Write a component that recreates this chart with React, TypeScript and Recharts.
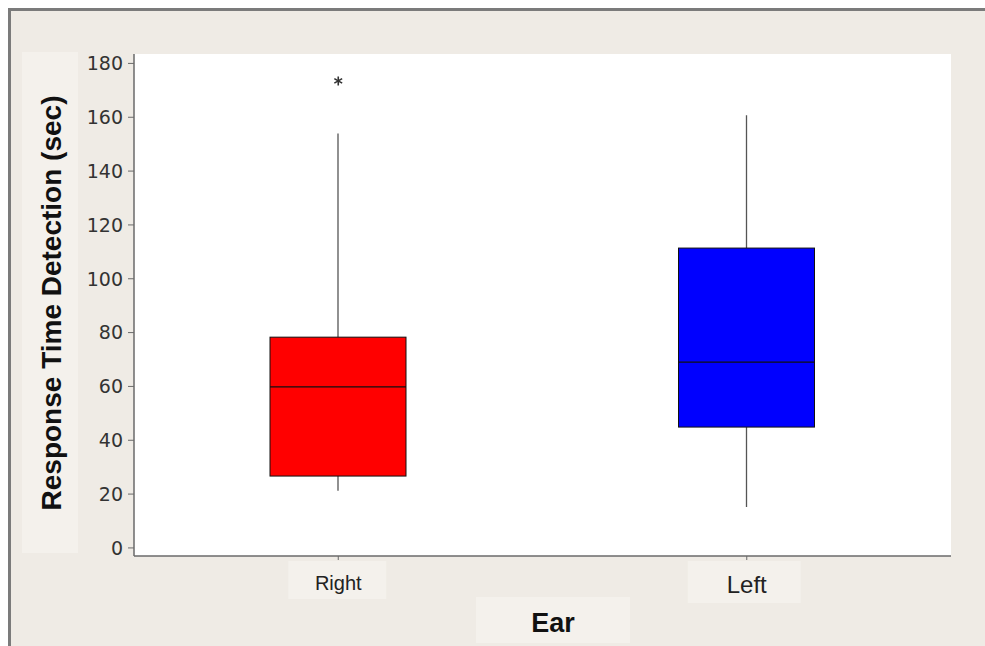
import { ComposedChart, Bar, Scatter, XAxis, YAxis, CartesianGrid } from 'recharts';

const ARIAL = '"Liberation Sans", Arial, sans-serif';
const DEJAVU = '"DejaVu Sans", Verdana, sans-serif';

const ears = ['Right', 'Left'];
const whiskerLow = [21.2, 15.2];
const quartile1 = [26.7, 44.9];
const medians = [59.8, 69.0];
const quartile3 = [78.3, 111.4];
const whiskerHigh = [154.0, 160.7];
const outliers: (number | null)[] = [173.5, null];
const yTicks = [0, 20, 40, 60, 80, 100, 120, 140, 160, 180];

const BOX_COLORS: Record<string, string> = { Right: '#ff0000', Left: '#0000ff' };
const TICK_FONT: Record<string, number> = { Right: 20, Left: 24 };
// [left offset, right offset, height, baseline offset]
const TICK_BOX: Record<string, [number, number, number, number]> = {
  Right: [-50, 48, 38, 28],
  Left: [-59, 54, 42, 31],
};

const BG = '#efebe5';
const BOX_BG = '#f4f1ec';
const AXIS = '#6a6a6a';

const data = ears.map((ear, i) => ({
  ear,
  low: whiskerLow[i],
  q1: quartile1[i],
  median: medians[i],
  q3: quartile3[i],
  high: whiskerHigh[i],
  outlier: outliers[i],
}));

type Row = (typeof data)[number];

const BoxShape = (props: any) => {
  const { x, y, width, height, payload } = props;
  const d = payload as Row;
  const k = height / (d.high - d.low);
  const py = (v: number) => y + (d.high - v) * k;
  const cx = x + width / 2;
  return (
    <g>
      <line x1={cx} x2={cx} y1={py(d.high)} y2={py(d.q3)} stroke="#555" strokeWidth={1.3} />
      <line x1={cx} x2={cx} y1={py(d.q1)} y2={py(d.low)} stroke="#555" strokeWidth={1.3} />
      <rect
        x={x}
        y={py(d.q3)}
        width={width}
        height={py(d.q1) - py(d.q3)}
        fill={BOX_COLORS[d.ear]}
        stroke="#111"
        strokeWidth={1}
      />
      <line x1={x} x2={x + width} y1={py(d.median)} y2={py(d.median)} stroke="#111" strokeWidth={1.2} />
    </g>
  );
};

const Asterisk = (props: any) => {
  const { cx, cy } = props;
  if (cx == null || cy == null || Number.isNaN(cy)) return null;
  const r = 4.5;
  return (
    <g stroke="#333" strokeWidth={1.6}>
      <line x1={cx} x2={cx} y1={cy - r} y2={cy + r} />
      <line x1={cx - r * 0.87} x2={cx + r * 0.87} y1={cy - r / 2} y2={cy + r / 2} />
      <line x1={cx - r * 0.87} x2={cx + r * 0.87} y1={cy + r / 2} y2={cy - r / 2} />
    </g>
  );
};

const EarTick = (props: any) => {
  const { x, y, payload } = props;
  const name = payload.value as string;
  const [bx, bw, bh, base] = TICK_BOX[name];
  return (
    <g>
      <rect x={x + bx} y={y - 1} width={bw - bx} height={bh} fill={BOX_BG} />
      <text x={x} y={y + base} textAnchor="middle" fontFamily={ARIAL} fontSize={TICK_FONT[name]} fill="#222">
        {name}
      </text>
    </g>
  );
};

const YLabel = () => (
  <g>
    <rect x={14} y={44} width={56} height={501} fill={BOX_BG} />
    <text
      x={0}
      y={0}
      transform="translate(53 295) rotate(-90)"
      textAnchor="middle"
      fontFamily={ARIAL}
      fontWeight="bold"
      fontSize={28}
      fill="#111"
    >
      Response Time Detection (sec)
    </text>
  </g>
);

const XLabel = () => (
  <g>
    <rect x={468} y={589} width={154} height={46} fill={BOX_BG} />
    <text x={545} y={624} textAnchor="middle" fontFamily={ARIAL} fontWeight="bold" fontSize={27} fill="#111">
      Ear
    </text>
  </g>
);

export default function App() {
  return (
    <div
      style={{
        position: 'fixed',
        left: 8,
        top: 8,
        width: 977,
        height: 638,
        background: BG,
        overflow: 'hidden',
      }}
    >
      <ComposedChart width={977} height={638} data={data} margin={{ top: 46, right: 34, bottom: 30, left: 0 }}>
        <CartesianGrid horizontal={false} vertical={false} fill="#ffffff" />
        <XAxis
          xAxisId="b"
          dataKey="ear"
          height={60}
          axisLine={{ stroke: AXIS, strokeWidth: 1.5 }}
          tickLine={{ stroke: AXIS }}
          tickSize={4}
          tick={<EarTick />}
          interval={0}
          label={{ content: <XLabel /> }}
        />
        <XAxis
          xAxisId="t"
          dataKey="ear"
          orientation="top"
          height={0}
          tick={false}
          tickLine={false}
          axisLine={{ stroke: AXIS, strokeWidth: 1.5 }}
        />
        <YAxis
          yAxisId="l"
          width={126}
          domain={[-3, 183.5]}
          ticks={yTicks}
          allowDataOverflow
          axisLine={{ stroke: AXIS, strokeWidth: 1.5 }}
          tickLine={{ stroke: AXIS }}
          tickSize={6}
          tickMargin={5}
          tick={{ fontFamily: DEJAVU, fontSize: 19, fill: '#333' }}
          label={{ content: <YLabel /> }}
        />
        <YAxis
          yAxisId="r"
          orientation="right"
          width={0}
          domain={[-3, 183.5]}
          tick={false}
          tickLine={false}
          axisLine={{ stroke: AXIS, strokeWidth: 1.5 }}
        />
        <Bar
          xAxisId="b"
          yAxisId="l"
          dataKey={(d: Row) => [d.low, d.high]}
          barSize={136}
          shape={<BoxShape />}
          isAnimationActive={false}
        />
        <Scatter xAxisId="b" yAxisId="l" dataKey="outlier" shape={<Asterisk />} isAnimationActive={false} />
      </ComposedChart>
      <div
        style={{
          position: 'absolute',
          left: 0,
          top: 0,
          width: 977,
          height: 638,
          borderTop: '3px solid #7b7b7b',
          borderLeft: '3px solid #7b7b7b',
          boxSizing: 'border-box',
          pointerEvents: 'none',
        }}
      />
    </div>
  );
}
